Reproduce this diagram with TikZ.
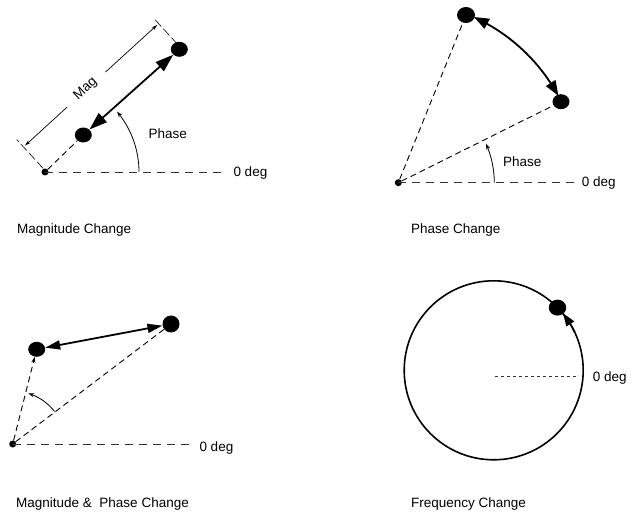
\documentclass[tikz,border=0pt]{standalone}
\usepackage{fontspec}
\setmainfont{Liberation Sans}
\usetikzlibrary{arrows.meta,shapes.geometric,calc,bending}
\begin{document}
\begin{tikzpicture}[x=1pt,y=1pt,
 dotn/.style={ellipse,fill=black,inner sep=0pt,minimum width=17pt,minimum height=15pt},
 orig/.style={circle,fill=black,inner sep=0pt,minimum size=7pt},
 axisline/.style={line width=0.9pt,dash pattern=on 8pt off 6pt,black!80},
 ray/.style={line width=0.9pt,dash pattern=on 6pt off 4pt},
 vec/.style={line width=1.8pt,{Triangle[length=18pt,width=12pt]}-{Triangle[length=18pt,width=12pt]}},
 vecsm/.style={line width=1.8pt,{Triangle[length=15pt,width=9pt]}-{Triangle[length=15pt,width=9pt]}},
 arcvec/.style={line width=1.8pt,{Triangle[length=15pt,width=11pt,bend]}-{Triangle[length=15pt,width=11pt,bend]}},
 lbl/.style={font=\fontsize{13.5}{16}\selectfont,inner sep=0pt},
 phasearc/.style={line width=0.8pt,-{Stealth[length=6pt,width=4pt]}},
 extline/.style={line width=0.6pt,dash pattern=on 9pt off 3pt},
 dimline/.style={line width=0.7pt,-{Stealth[length=6pt,width=3.5pt]}},
]
\useasboundingbox (0,0) rectangle (632,512);

% ---------- Magnitude Change ----------
\node[orig] (o1) at (45,340) {};
\node[dotn] (a1) at (83.3,377) {};
\node[dotn] (b1) at (179.3,462.7) {};
\coordinate (z1) at (222,340);
\draw[axisline] (o1.center) -- (z1);
\node[lbl,anchor=base west] (zl1) at (233.3,335.3) {0 deg};
\draw[ray] (o1) -- (a1);
\draw[vec] (a1) -- (b1);
\begin{scope}[shift={(45,340)},rotate=42.4]
 \coordinate (e1a) at (1,4);   \coordinate (e1b) at (1,43);
 \coordinate (e2a) at (184,5); \coordinate (e2b) at (184,41);
 \coordinate (d1) at (60,33);  \coordinate (d1e) at (3,33);
 \coordinate (d2) at (112,33); \coordinate (d2e) at (182,33);
 \draw[extline] (e1a) -- (e1b);
 \draw[extline] (e2a) -- (e2b);
 \draw[dimline] (d1) -- (d1e);
 \draw[dimline] (d2) -- (d2e);
 \node[lbl,rotate=42.4] (mag) at (86,34) {Mag};
\end{scope}
\coordinate (p1s) at (139,340);
\draw[phasearc] (p1s) arc[start angle=0,end angle=40,radius=94];
\node[lbl,anchor=base west] (ph1) at (148.3,373.7) {Phase};
\node[lbl,anchor=base west] (t1) at (17,278) {Magnitude Change};

% ---------- Phase Change ----------
\node[orig] (o2) at (398.3,329.3) {};
\node[dotn,minimum width=18pt,minimum height=16pt] (pu) at (466,497) {};
\node[dotn] (pl) at (561,410.3) {};
\coordinate (z2) at (578.3,329.3);
\draw[axisline] (o2.center) -- (z2);
\node[lbl,anchor=base west] (zl2) at (581.7,325) {0 deg};
\draw[ray] (o2) -- (pu);
\draw[ray] (o2) -- (pl);
\coordinate (p2s) at (494.3,329.3);
\draw[phasearc] (p2s) arc[start angle=0,end angle=24,radius=96];
\node[lbl,anchor=base west] (ph2) at (503,345.3) {Phase};
\coordinate (bigs) at (473.8,494.9);
\draw[arcvec] (bigs) arc[start angle=65.5,end angle=28.5,radius=182];
\node[lbl,anchor=base west] (t2) at (411,278) {Phase Change};

% ---------- Magnitude & Phase Change ----------
\node[orig] (o3) at (12.7,68) {};
\node[dotn] (l3) at (36.7,162.7) {};
\node[dotn,minimum width=17pt,minimum height=17pt] (r3) at (171,188) {};
\coordinate (z3) at (191.7,68);
\draw[axisline] (o3.center) -- (z3);
\node[lbl,anchor=base west] (zl3) at (199.3,60.3) {0 deg};
\draw[ray] (o3) -- (r3);
\draw[ray,-{Stealth[length=6pt,width=4pt]}] (o3) -- (l3);
\draw[vecsm] (l3) -- (r3);
\coordinate (p3s) at (54.5,100.6);
\draw[phasearc] (p3s) arc[start angle=38,end angle=73,radius=53];
\node[lbl,anchor=base west] (t3) at (16,4.7) {Magnitude \& \ Phase Change};

% ---------- Frequency Change ----------
\coordinate (fc) at (493.7,141.7);
\draw[line width=1.6pt] (fc) circle[radius=89.5];
\node[dotn,minimum width=17.5pt,minimum height=16pt] (fd) at (557.5,204.4) {};
\coordinate (fa) at ($(fc)+(25:89.5)$);
\draw[line width=1.6pt,-{Triangle[length=13pt,width=9pt,bend]}] (fa) arc[start angle=25,end angle=39.5,radius=89.5];
\coordinate (fz0) at (495.3,136);
\coordinate (fz1) at (576.7,136);
\draw[line width=0.9pt,dash pattern=on 3pt off 3pt,black!80] (fz0) -- (fz1);
\node[lbl,anchor=base west] (zl4) at (592.7,130.5) {0 deg};
\node[lbl,anchor=base west] (t4) at (411,4.7) {Frequency Change};
\end{tikzpicture}
\end{document}
